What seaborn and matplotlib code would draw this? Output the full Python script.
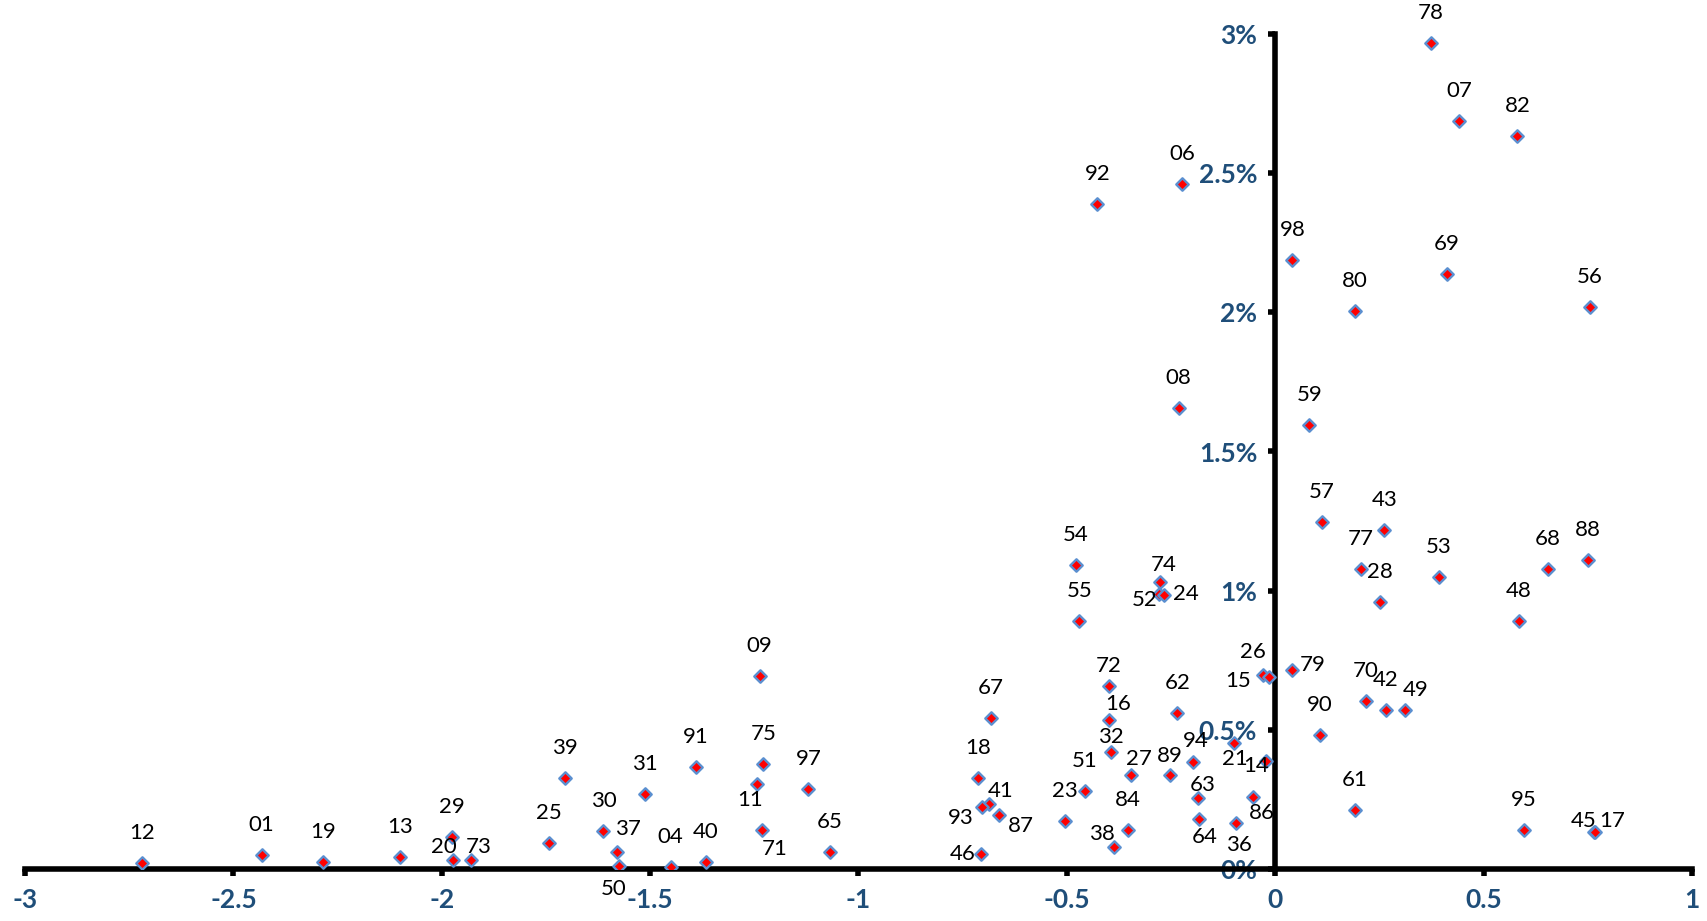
import matplotlib
matplotlib.use("Agg")
import matplotlib.pyplot as plt
import seaborn as sns
import pandas as pd

# ---- data (x value, y in percent) ----
labels = ["12", "01", "19", "13", "29", "20", "73",
          "09", "39", "31", "91", "75", "11", "97", "30", "25", "37", "50", "04", "40", "71", "65",
          "55", "54", "74", "52", "24", "67", "72", "16", "62", "32", "18", "51", "23", "41", "93",
          "87", "46", "27", "84", "38", "89", "94", "63", "64", "36",
          "21", "14", "86", "26", "15", "79", "90", "70", "42", "49", "61", "95", "48", "28", "77",
          "53", "68", "59", "57", "43", "08", "80", "78", "07", "82", "06", "98", "69", "92",
          "56", "88", "45", "17"]
x_vals = [-2.720, -2.432, -2.284, -2.100, -1.976, -1.974, -1.931,
          -1.237, -1.704, -1.513, -1.391, -1.228, -1.244, -1.120, -1.612, -1.743, -1.579, -1.575,
          -1.451, -1.367, -1.231, -1.069,
          -0.470, -0.478, -0.276, -0.279, -0.268, -0.683, -0.400, -0.400, -0.235, -0.394, -0.713,
          -0.457, -0.504, -0.688, -0.703, -0.664, -0.706, -0.345, -0.354, -0.386, -0.252, -0.197,
          -0.186, -0.184, -0.095,
          -0.099, -0.023, -0.053, -0.030, -0.014, 0.040, 0.107, 0.217, 0.266, 0.312, 0.191, 0.597,
          0.585, 0.251, 0.206, 0.393, 0.655, 0.082, 0.112, 0.262, -0.232, 0.191, 0.373, 0.442,
          0.581, -0.224, 0.041, 0.411, -0.427,
          0.755, 0.751, 0.764, 0.767]
y_pct = [0.023, 0.050, 0.024, 0.044, 0.116, 0.032, 0.032,
         0.692, 0.326, 0.269, 0.366, 0.377, 0.306, 0.289, 0.137, 0.095, 0.062, 0.011, 0.007,
         0.026, 0.141, 0.061,
         0.890, 1.094, 1.030, 0.987, 0.983, 0.544, 0.657, 0.537, 0.562, 0.421, 0.327, 0.279,
         0.174, 0.234, 0.224, 0.195, 0.053, 0.336, 0.139, 0.078, 0.337, 0.384, 0.255, 0.180,
         0.164,
         0.452, 0.387, 0.258, 0.697, 0.690, 0.715, 0.481, 0.603, 0.571, 0.571, 0.213, 0.139,
         0.890, 0.958, 1.078, 1.049, 1.079, 1.596, 1.246, 1.219, 1.656, 2.006, 2.969, 2.688,
         2.634, 2.460, 2.188, 2.139, 2.388,
         2.020, 1.110, 0.134, 0.133]

x_ticks = [-3, -2.5, -2, -1.5, -1, -0.5, 0, 0.5, 1]
x_tick_labels = ["-3", "-2.5", "-2", "-1.5", "-1", "-0.5", "0", "0.5", "1"]
y_ticks = [0, 0.5, 1, 1.5, 2, 2.5, 3]
y_tick_labels = ["0%", "0.5%", "1%", "1.5%", "2%", "2.5%", "3%"]

# label placement offsets (pixels, relative to marker) -- default is straight above
default_offset = (0, 30)
label_offsets = {
    "20": (-9, 13), "73": (8, 13), "11": (-7, -16), "37": (11, 23), "50": (-5, -23),
    "71": (12, -19), "74": (3, 17), "52": (-14, -6), "24": (22, 1), "72": (0, 20),
    "16": (10, 16), "32": (0, 15), "41": (12, 13), "93": (-22, -11), "87": (22, -11),
    "46": (-18, 0), "27": (7, 16), "38": (-12, 13), "89": (0, 19), "94": (3, 21),
    "63": (5, 13), "64": (6, -18), "36": (3, -22), "21": (1, -16), "14": (-10, -5),
    "86": (9, -16), "26": (-10, 23), "15": (-31, -4), "79": (21, 5), "49": (10, 20),
    "45": (-10, 11), "17": (17, 11),
}

df = pd.DataFrame({"label": labels, "x": x_vals, "y": y_pct})

sns.set_style("white")
plt.rcParams["font.family"] = ["Lato", "DejaVu Sans"]

W, H = 1708, 921
fig = plt.figure(figsize=(W / 100, H / 100), dpi=100)
ax = fig.add_axes([25 / W, (H - 869) / H, (1692 - 25) / W, (869 - 34) / H])

sns.scatterplot(data=df, x="x", y="y", marker="D", s=40, color="#FF0000",
                edgecolor="#5B8FD0", linewidth=1.7, ax=ax, zorder=3, legend=False)

for lab, xv, yv in zip(labels, x_vals, y_pct):
    dx, dy = label_offsets.get(lab, default_offset)
    ax.annotate(lab, (xv, yv), xytext=(dx, dy), textcoords="offset pixels",
                ha="center", va="center", fontsize=16, color="black", zorder=4)

ax.set_xlim(-3, 1)
ax.set_ylim(0, 3)
ax.set_xlabel("")
ax.set_ylabel("")

for side in ["top", "right"]:
    ax.spines[side].set_visible(False)
ax.spines["left"].set_position(("data", 0))
ax.spines["bottom"].set_position(("data", 0))
for side in ["left", "bottom"]:
    ax.spines[side].set_linewidth(4)
    ax.spines[side].set_color("black")
    ax.spines[side].set_capstyle("projecting")

ax.set_xticks(x_ticks)
ax.set_xticklabels(x_tick_labels)
ax.set_yticks(y_ticks)
ax.set_yticklabels(y_tick_labels)

tick_color = "#1F4E79"
ax.tick_params(axis="x", bottom=True, direction="out", length=5, width=4, color="black",
               labelsize=19, labelcolor=tick_color, pad=9)
ax.tick_params(axis="y", left=True, direction="out", length=5, width=4, color="black",
               labelsize=19, labelcolor=tick_color, pad=8)
for t in ax.get_xticklabels() + ax.get_yticklabels():
    t.set_fontweight("bold")

ax.set_facecolor("white")
fig.patch.set_facecolor("white")
fig.savefig("out.png", dpi=100)
